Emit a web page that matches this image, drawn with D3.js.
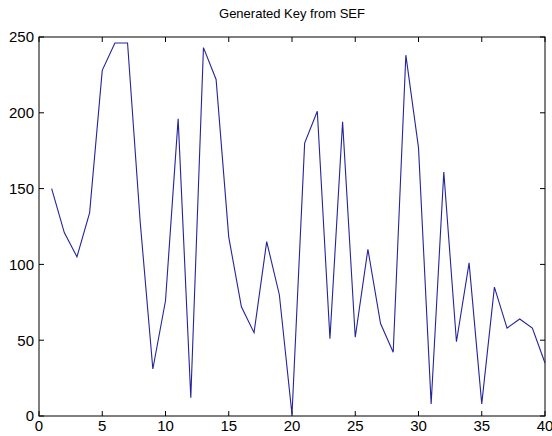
<!DOCTYPE html>
<html>
<head>
<meta charset="utf-8">
<script src="https://cdn.jsdelivr.net/npm/d3@7"></script>
<style>
  body { margin: 0; background: #fff; }
  svg { display: block; }
  text { font-family: "Liberation Sans", Arial, sans-serif; fill: #000; }
</style>
</head>
<body>
<div id="chart"></div>
<script>
const title = "Generated Key from SEF";
const xTicks = [0, 5, 10, 15, 20, 25, 30, 35, 40];
const yTicks = [0, 50, 100, 150, 200, 250];
const keyIndex = d3.range(1, 41);
const keyValues = [150, 121, 105, 134, 228, 246, 246, 128, 31, 76,
                   196, 12, 243, 222, 118, 72, 55, 115, 80, 1,
                   180, 201, 51, 194, 52, 110, 61, 42, 238, 177,
                   8, 161, 49, 101, 8, 85, 58, 64, 58, 35];

const width = 552, height = 436;
const margin = {top: 37, right: 7, bottom: 20, left: 39};

const svg = d3.select("#chart").append("svg")
    .attr("width", width)
    .attr("height", height);

const xScale = d3.scaleLinear().domain([0, 40]).range([margin.left, width - margin.right]);
const yScale = d3.scaleLinear().domain([0, 250]).range([height - margin.bottom, margin.top]);

// box
svg.append("rect")
    .attr("x", xScale(0))
    .attr("y", yScale(250))
    .attr("width", xScale(40) - xScale(0))
    .attr("height", yScale(0) - yScale(250))
    .attr("fill", "none")
    .attr("stroke", "black");

// ticks inward on all four sides
const tickLen = 5;
xTicks.forEach(t => {
    svg.append("line")
        .attr("x1", xScale(t)).attr("x2", xScale(t))
        .attr("y1", yScale(0)).attr("y2", yScale(0) - tickLen)
        .attr("stroke", "black");
    svg.append("line")
        .attr("x1", xScale(t)).attr("x2", xScale(t))
        .attr("y1", yScale(250)).attr("y2", yScale(250) + tickLen)
        .attr("stroke", "black");
    svg.append("text")
        .attr("x", xScale(t))
        .attr("y", yScale(0) + 15)
        .attr("text-anchor", "middle")
        .attr("font-size", 15)
        .text(t);
});
yTicks.forEach(t => {
    svg.append("line")
        .attr("x1", xScale(0)).attr("x2", xScale(0) + tickLen)
        .attr("y1", yScale(t)).attr("y2", yScale(t))
        .attr("stroke", "black");
    svg.append("line")
        .attr("x1", xScale(40)).attr("x2", xScale(40) - tickLen)
        .attr("y1", yScale(t)).attr("y2", yScale(t))
        .attr("stroke", "black");
    svg.append("text")
        .attr("x", xScale(0) - 5)
        .attr("y", yScale(t))
        .attr("dy", "0.36em")
        .attr("text-anchor", "end")
        .attr("font-size", 15)
        .text(t);
});

// title
svg.append("text")
    .attr("x", (xScale(0) + xScale(40)) / 2)
    .attr("y", 18)
    .attr("text-anchor", "middle")
    .attr("font-size", 13)
    .text(title);

// the key line
const line = d3.line()
    .x((d, i) => xScale(keyIndex[i]))
    .y(d => yScale(d));

svg.append("path")
    .datum(keyValues)
    .attr("d", line)
    .attr("fill", "none")
    .attr("stroke", "#24249a")
    .attr("stroke-width", 1.1);
</script>
</body>
</html>
